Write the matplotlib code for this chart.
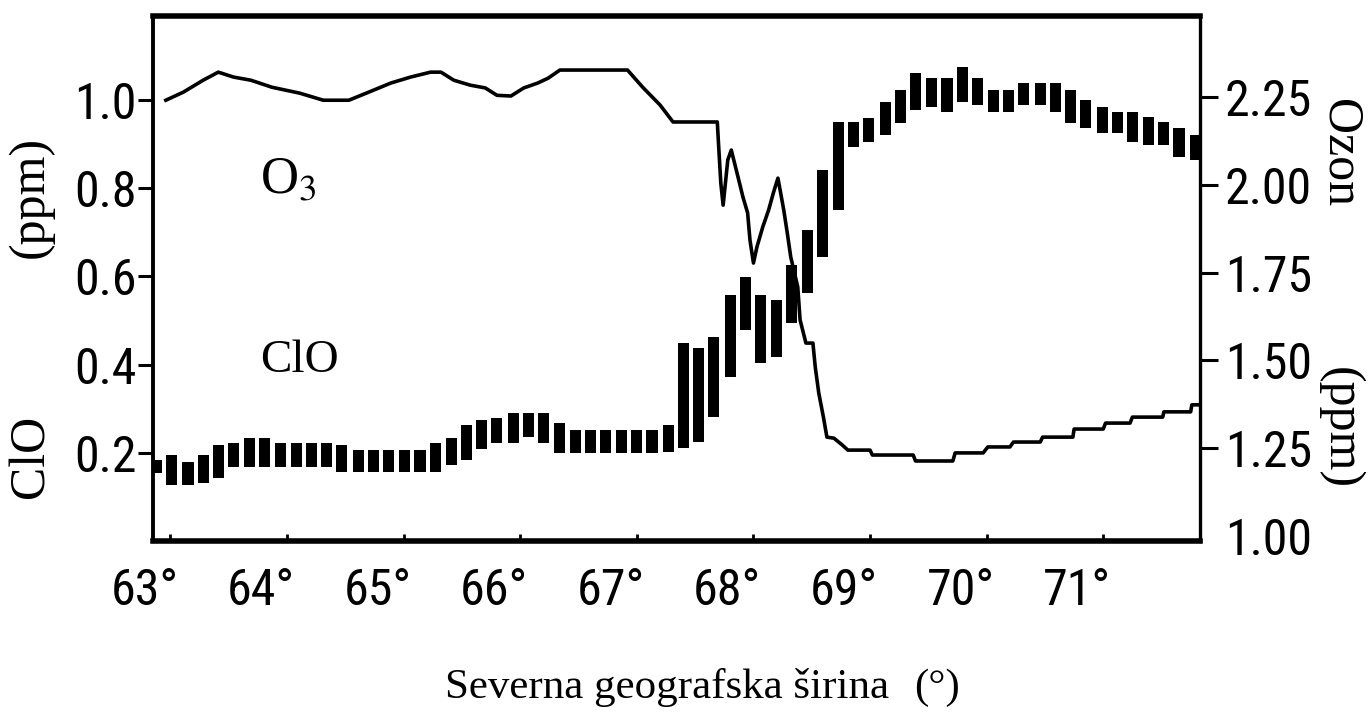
import matplotlib
matplotlib.use("Agg")
import matplotlib.pyplot as plt
import matplotlib.transforms as mtransforms
from matplotlib import font_manager
import numpy as np

# ClO (ppm), drawn as the vertical bars of the scan: latitude, bar bottom, bar top
clo_lat = [62.88, 63.01, 63.15, 63.28, 63.41, 63.54, 63.68, 63.81, 63.94, 64.08,
           64.21, 64.34, 64.47, 64.61, 64.74, 64.87, 65.01, 65.14, 65.27, 65.41,
           65.54, 65.67, 65.80, 65.94, 66.07, 66.20, 66.34, 66.47, 66.60, 66.73,
           66.87, 67.00, 67.13, 67.27, 67.40, 67.53, 67.66, 67.80, 67.93, 68.06,
           68.20, 68.33, 68.46, 68.59, 68.73, 68.86, 68.99, 69.13, 69.26, 69.39,
           69.53, 69.66, 69.79, 69.92, 70.06, 70.19, 70.32, 70.46, 70.59, 70.72,
           70.85, 70.99, 71.12, 71.25, 71.39, 71.52, 71.65, 71.79]
clo_lo = [0.155, 0.127, 0.127, 0.132, 0.143, 0.168, 0.168, 0.168, 0.168, 0.168,
          0.168, 0.168, 0.157, 0.157, 0.157, 0.157, 0.157, 0.157, 0.157, 0.173,
          0.184, 0.209, 0.223, 0.223, 0.236, 0.223, 0.200, 0.200, 0.200, 0.200,
          0.200, 0.200, 0.200, 0.202, 0.211, 0.225, 0.282, 0.372, 0.479, 0.404,
          0.418, 0.495, 0.563, 0.644, 0.751, 0.893, 0.905, 0.921, 0.948, 0.977,
          0.984, 0.973, 0.995, 0.989, 0.973, 0.973, 0.989, 0.989, 0.973, 0.948,
          0.936, 0.925, 0.925, 0.905, 0.898, 0.898, 0.871, 0.864]
clo_hi = [0.184, 0.195, 0.180, 0.195, 0.218, 0.223, 0.234, 0.234, 0.223, 0.223,
          0.223, 0.223, 0.218, 0.207, 0.207, 0.207, 0.207, 0.207, 0.223, 0.234,
          0.263, 0.275, 0.279, 0.291, 0.291, 0.291, 0.268, 0.252, 0.252, 0.252,
          0.252, 0.252, 0.252, 0.263, 0.449, 0.438, 0.463, 0.558, 0.599, 0.558,
          0.547, 0.626, 0.705, 0.841, 0.950, 0.950, 0.959, 0.995, 1.023, 1.061,
          1.050, 1.050, 1.075, 1.050, 1.023, 1.023, 1.038, 1.038, 1.038, 1.023,
          1.000, 0.984, 0.973, 0.973, 0.961, 0.950, 0.936, 0.921]

# Ozon (ppm), right axis
o3_lat = [62.96, 63.11, 63.28, 63.41, 63.54, 63.69, 63.87, 64.11, 64.31, 64.53,
          64.70, 64.89, 65.06, 65.23, 65.32, 65.43, 65.57, 65.70, 65.80, 65.92,
          66.03, 66.15, 66.24, 66.34, 66.92, 67.05, 67.20, 67.31, 67.69, 67.70,
          67.72, 67.74, 67.78, 67.81, 67.87, 67.91, 67.95, 67.97, 68.00, 68.03,
          68.08, 68.13, 68.17, 68.21, 68.26, 68.29, 68.32, 68.38, 68.40, 68.45,
          68.51, 68.53, 68.56, 68.60, 68.63, 68.69, 68.76, 68.81, 69.00, 69.02,
          69.37, 69.39, 69.71, 69.73, 69.97, 70.01, 70.20, 70.23, 70.46, 70.48,
          70.74, 70.75, 71.00, 71.02, 71.23, 71.25, 71.51, 71.52, 71.75, 71.76,
          71.82]
o3_ppm = [2.241, 2.264, 2.298, 2.321, 2.307, 2.298, 2.278, 2.261, 2.241, 2.241,
          2.264, 2.290, 2.307, 2.321, 2.321, 2.298, 2.284, 2.276, 2.255, 2.253,
          2.276, 2.290, 2.304, 2.327, 2.327, 2.278, 2.227, 2.179, 2.179, 2.119,
          2.005, 1.942, 2.071, 2.099, 2.019, 1.965, 1.920, 1.843, 1.777, 1.823,
          1.880, 1.928, 1.976, 2.019, 1.928, 1.863, 1.794, 1.709, 1.615, 1.549,
          1.549, 1.481, 1.407, 1.338, 1.281, 1.278, 1.259, 1.244, 1.244, 1.230,
          1.230, 1.213, 1.213, 1.236, 1.236, 1.253, 1.253, 1.267, 1.267, 1.281,
          1.281, 1.304, 1.304, 1.321, 1.321, 1.338, 1.338, 1.353, 1.353, 1.373,
          1.373]

lat_ticks = [63, 64, 65, 66, 67, 68, 69, 70, 71]
clo_ticks = [0.2, 0.4, 0.6, 0.8, 1.0]
o3_ticks = [1.00, 1.25, 1.50, 1.75, 2.00, 2.25]

# narrow sans for the tick numbers, whichever is installed
tick_font, tick_size = "DejaVu Sans", 27
for fam, size in [("Liberation Sans Narrow", 38), ("Roboto Condensed", 36), ("Roboto", 30)]:
    try:
        font_manager.findfont(font_manager.FontProperties(family=fam),
                              fallback_to_default=False)
        tick_font, tick_size = fam, size
        break
    except ValueError:
        pass
tick_fam = [tick_font, "DejaVu Sans"]

serif = ["Liberation Serif", "DejaVu Serif"]
plt.rcParams["mathtext.fontset"] = "stix"

fig = plt.figure(figsize=(13.71, 7.14), dpi=100)
ax = fig.add_axes([153 / 1371, 173 / 714, 1047 / 1371, 525 / 714])
ax2 = ax.twinx()

ax.bar(clo_lat, np.array(clo_hi) - np.array(clo_lo), bottom=clo_lo,
       width=0.095, color="black", linewidth=0)
ax2.plot(o3_lat, o3_ppm, color="black", linewidth=2.6)

ax.set_xlim(62.85, 71.83)
ax.set_ylim(0, 1.19)
ax2.set_ylim(0.985, 2.481)

ax.set_xticks(lat_ticks)
ax.set_xticklabels([f"{t}°" for t in lat_ticks], family=tick_fam, fontsize=tick_size)
ax.set_yticks(clo_ticks)
ax.set_yticklabels([f"{t:.1f}" for t in clo_ticks], family=tick_fam, fontsize=tick_size)
ax2.set_yticks(o3_ticks)
ax2.set_yticklabels([f"{t:.2f}" for t in o3_ticks], family=tick_fam, fontsize=tick_size)

ax.tick_params(axis="x", direction="in", length=5, width=2, pad=19)
ax.tick_params(axis="y", direction="out", length=11, width=2.2, pad=1)
ax2.tick_params(axis="y", direction="out", length=13, width=2.2, pad=5)
ax2.yaxis.get_major_ticks()[0].tick2line.set_visible(False)

# degree sign sits over the tick, digits to its left
shift = mtransforms.ScaledTranslation(8 / 100, 0, fig.dpi_scale_trans)
for lbl in ax.get_xticklabels():
    lbl.set_horizontalalignment("right")
    lbl.set_transform(lbl.get_transform() + shift)

for name, lw in [("left", 2.8), ("top", 4), ("bottom", 4)]:
    ax.spines[name].set_linewidth(lw)
    ax2.spines[name].set_visible(False)
ax.spines["right"].set_visible(False)
ax2.spines["right"].set_linewidth(2.4)

ax.text(63.77, 0.789, r"O$_3$", family=serif, fontsize=38, va="baseline")
ax.text(63.77, 0.384, "ClO", family=serif, fontsize=34, va="baseline")

fig.text(31 / 1371, 1 - 456 / 714, "ClO", family=serif, fontsize=36,
         rotation=90, ha="center", va="center")
fig.text(31 / 1371, 1 - 197 / 714, "(ppm)", family=serif, fontsize=36,
         rotation=90, ha="center", va="center")
fig.text(1340 / 1371, 1 - 153 / 714, "Ozon", family=serif, fontsize=36,
         rotation=-90, ha="center", va="center")
fig.text(1340 / 1371, 1 - 428 / 714, "(ppm)", family=serif, fontsize=36,
         rotation=-90, ha="center", va="center")

fig.text(667 / 1371, 16 / 714, "Severna geografska širina", family=serif,
         fontsize=31, ha="center", va="baseline")
fig.text(937 / 1371, 16 / 714, "(°)", family=serif, fontsize=31,
         ha="center", va="baseline")

fig.savefig("out.png", dpi=100)
